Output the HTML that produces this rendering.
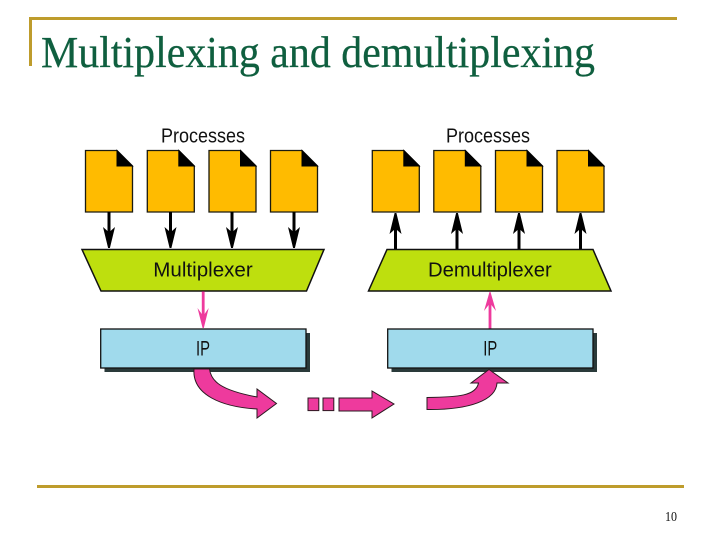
<!DOCTYPE html>
<html>
<head>
<meta charset="utf-8">
<style>
html,body{margin:0;padding:0;background:#fff;width:720px;height:540px;overflow:hidden}
svg{display:block}
</style>
</head>
<body>
<svg width="720" height="540" viewBox="0 0 720 540" xmlns="http://www.w3.org/2000/svg">
<defs>
<g id="doc">
<path d="M0 0H31.5L47 15.5V61.5H0Z" fill="#FFBB00" stroke="#1a1a10" stroke-width="1.3"/>
<path d="M31.5 0L47 15.5H31.5Z" fill="#000" stroke="#000" stroke-width="1"/>
</g>
<path id="down" d="M-1.5 -36H1.5V-17L6 -21L0.9 0H-0.9L-6 -21L-1.5 -17Z" fill="#000"/>
<path id="up" d="M-1.5 36H1.5V17L6 21L0.9 0H-0.9L-6 21L-1.5 17Z" fill="#000"/>
</defs>

<!-- slide frame -->
<rect x="29" y="17" width="648" height="3" fill="#BE9C2C"/>
<rect x="29" y="17" width="3" height="49" fill="#BE9C2C"/>
<rect x="37" y="485" width="647" height="3" fill="#BE9C2C"/>
<text x="41" y="67" font-family="'Liberation Serif',serif" font-size="44" fill="#0F5F3F" stroke="#0F5F3F" stroke-width="0.25" textLength="554" lengthAdjust="spacingAndGlyphs">Multiplexing and demultiplexing</text>
<text x="665" y="521" font-family="'Liberation Serif',serif" font-size="14" fill="#111" textLength="12" lengthAdjust="spacingAndGlyphs">10</text>

<!-- labels -->
<g font-family="'Liberation Sans',sans-serif" font-size="20" fill="#111">
<text x="161" y="142.7" textLength="84" lengthAdjust="spacingAndGlyphs">Processes</text>
<text x="446" y="142.7" textLength="84" lengthAdjust="spacingAndGlyphs">Processes</text>
</g>

<!-- documents -->
<use href="#doc" x="85.5" y="150.5"/>
<use href="#doc" x="147.3" y="150.5"/>
<use href="#doc" x="209" y="150.5"/>
<use href="#doc" x="270.5" y="150.5"/>
<use href="#doc" x="372.3" y="150.5"/>
<use href="#doc" x="433.8" y="150.5"/>
<use href="#doc" x="495.5" y="150.5"/>
<use href="#doc" x="557" y="150.5"/>

<!-- black arrows -->
<use href="#down" x="109" y="248"/>
<use href="#down" x="170.5" y="248"/>
<use href="#down" x="232" y="248"/>
<use href="#down" x="294" y="248"/>
<use href="#up" x="395.5" y="213"/>
<use href="#up" x="457" y="213"/>
<use href="#up" x="519" y="213"/>
<use href="#up" x="580.5" y="213"/>

<!-- trapezoids -->
<path d="M82 249.5H324L306.5 291H101Z" fill="#BEDF0E" stroke="#111" stroke-width="1.5"/>
<path d="M387 249.5H593L611 291H368.5Z" fill="#BEDF0E" stroke="#111" stroke-width="1.5"/>
<g font-family="'Liberation Sans',sans-serif" font-size="20" fill="#111">
<text x="153.3" y="276.7" textLength="99.4" lengthAdjust="spacingAndGlyphs">Multiplexer</text>
<text x="428" y="276.7" textLength="123.7" lengthAdjust="spacingAndGlyphs">Demultiplexer</text>
</g>

<!-- pink connectors -->
<path d="M201.8 291.5H204.6V314L208.7 308L203.8 328H202.6L197.5 308L201.8 314Z" fill="#EE3A9D"/>
<path d="M488.6 329H491.4V305L496 311L490.5 292H489.5L484 311L488.6 305Z" fill="#EE3A9D"/>

<!-- IP boxes -->
<rect x="104.5" y="333" width="205.5" height="39" fill="#2A3A3A"/>
<rect x="100.7" y="329" width="205.3" height="39" fill="#A0DAEC" stroke="#111" stroke-width="1.3"/>
<rect x="391.5" y="333" width="205.5" height="39" fill="#2A3A3A"/>
<rect x="387.7" y="329" width="205.3" height="39" fill="#A0DAEC" stroke="#111" stroke-width="1.3"/>
<g font-family="'Liberation Sans',sans-serif" font-size="21.5" fill="#111">
<text x="196" y="355.7" textLength="14" lengthAdjust="spacingAndGlyphs">IP</text>
<text x="483.3" y="355.7" textLength="14" lengthAdjust="spacingAndGlyphs">IP</text>
</g>

<!-- pink flow arrows -->
<g fill="#EE3A9D" stroke="#2a1a20" stroke-width="1">
<path d="M194 369H209.5C211 381 220 390 257 397V389L276.5 403.5L257 418V409C222 407 192 395 194 369Z"/>
<rect x="308" y="398" width="10.8" height="12.6"/>
<rect x="323" y="398" width="10.8" height="12.6"/>
<path d="M339 398H372V391L394 404L372 418V411H339Z"/>
<path d="M427 397.5C458 397 476 396 478.5 383H471L489 369.5L508 383H497C496 400 470 410 427 409.5Z"/>
</g>
</svg>
</body>
</html>
